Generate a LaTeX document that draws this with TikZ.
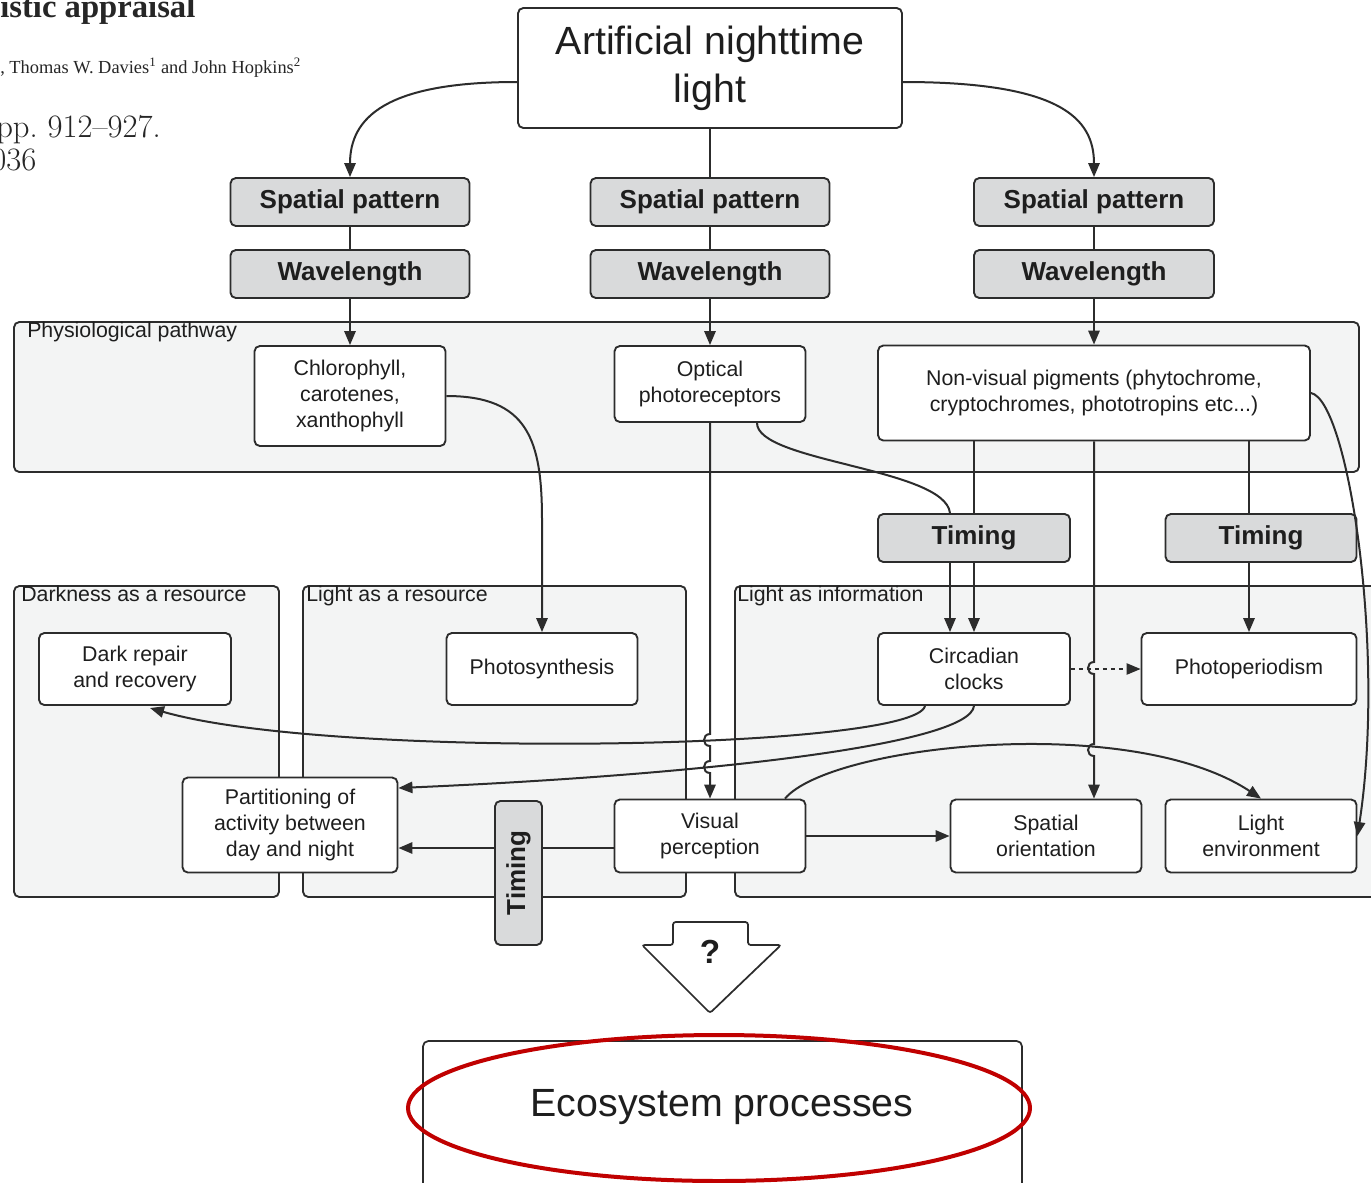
\documentclass[tikz,border=0pt]{standalone}
\usepackage{fontspec}
\newfontfamily\lsans{Liberation Sans}
\newfontfamily\lserif{Liberation Serif}
\usetikzlibrary{arrows.meta,calc}
\definecolor{lc}{HTML}{2C2C2C}
\definecolor{tc}{HTML}{1E1E1E}
\definecolor{gfill}{HTML}{D9DADB}
\definecolor{grpfill}{HTML}{F3F4F4}
\definecolor{ered}{HTML}{C00000}
\begin{document}
\begin{tikzpicture}[x=0.75pt,y=-0.75pt,
  box/.style 2 args={draw=lc, line width=1.4pt, rounded corners=4pt, fill=white, align=center, text=tc, inner sep=0pt,
    minimum width={#1*0.75pt}, minimum height={#2*0.75pt}, font=\lsans\fontsize{16}{19.5}\selectfont},
  gbox/.style 2 args={box={#1}{#2}, fill=gfill, font=\lsans\bfseries\fontsize{19.5}{23}\selectfont},
  grp/.style={draw=lc, line width=1.4pt, rounded corners=4pt, fill=grpfill},
  glabel/.style={anchor=base west, inner sep=0pt, text=tc, font=\lsans\fontsize{16}{19.5}\selectfont},
  conn/.style={draw=lc, line width=1.5pt},
  arr/.style={conn, -{Triangle[length=10.5pt,width=8.5pt]}},
  hdr/.style={anchor=base west, inner sep=0pt, text=black!85},
]
\useasboundingbox (0,0) rectangle (1371,1182);
\clip (0,0) rectangle (1371,1182);
\fill[white] (0,0) rectangle (1371,1182);

% header fragment
\node[hdr, font=\lserif\bfseries\fontsize{24.5}{28}\selectfont] (h1) at (0,17) {istic appraisal};
\node[hdr, font=\lserif\fontsize{13.8}{16}\selectfont] (h2) at (0,73) {, Thomas W. Davies\textsuperscript{1} and John Hopkins\textsuperscript{2}};
\node[hdr, font=\fontsize{24.5}{29}\selectfont] (h3) at (-4,137) {pp.\ 912--927.};
\node[hdr, font=\fontsize{24.5}{29}\selectfont] (h4) at (-9,170) {036};

% groups
\draw[grp] (14,322) rectangle (1359,472);
\draw[grp] (14,586) rectangle (279,897);
\draw[grp] (303,586) rectangle (686,897);
\draw[grp] (735,586) rectangle (1395,897);
\node[glabel] (lphys) at (27,337) {Physiological pathway};
\node[glabel] (ldark) at (21,601) {Darkness as a resource};
\node[glabel] (lres) at (306,601) {Light as a resource};
\node[glabel] (linfo) at (737,601) {Light as information};

% nodes
\node[box={384}{120}, font=\lsans\fontsize{29.5}{36}\selectfont] (top) at (710,68) {Artificial nighttime\\light};
\node[gbox={239}{48}] (sp1) at (350,202) {Spatial pattern};
\node[gbox={239}{48}] (sp2) at (710,202) {Spatial pattern};
\node[gbox={240}{48}] (sp3) at (1094,202) {Spatial pattern};
\node[gbox={239}{48}] (wl1) at (350,274) {Wavelength};
\node[gbox={239}{48}] (wl2) at (710,274) {Wavelength};
\node[gbox={240}{48}] (wl3) at (1094,274) {Wavelength};
\node[box={191}{100}] (chl) at (350,396) {Chlorophyll,\\carotenes,\\xanthophyll};
\node[box={191}{76}] (opt) at (710,384) {Optical\\photoreceptors};
\node[box={432}{95}] (nvp) at (1094,393) {Non-visual pigments (phytochrome,\\cryptochromes, phototropins etc...)};
\node[gbox={192}{48}] (tim1) at (974,538) {Timing};
\node[gbox={191}{48}] (tim2) at (1261,538) {Timing};
\node[box={192}{72}] (dark) at (135,669) {Dark repair\\and recovery};
\node[box={191}{72}] (photo) at (542,669) {Photosynthesis};
\node[box={192}{72}] (circ) at (974,669) {Circadian\\clocks};
\node[box={215}{72}] (pper) at (1249,669) {Photoperiodism};
\node[box={215}{95}] (part) at (290,825) {Partitioning of\\activity between\\day and night};
\node[box={191}{73}] (vis) at (710,836) {Visual\\perception};
\node[box={191}{73}] (spo) at (1046,836) {Spatial\\orientation};
\node[box={191}{73}] (lenv) at (1261,836) {Light\\environment};

% connectors, top part
\draw[conn] (top.south) -- (sp2.north);
\draw[arr] ($(top.west)+(0,14)$) .. controls (385,82) and (350,118) .. (sp1.north);
\draw[arr] ($(top.east)+(0,14)$) .. controls (1060,82) and (1094,118) .. (sp3.north);
\draw[conn] (sp1.south) -- (wl1.north);
\draw[conn] (sp2.south) -- (wl2.north);
\draw[conn] (sp3.south) -- (wl3.north);
\draw[arr] (wl1.south) -- (chl.north);
\draw[arr] (wl2.south) -- (opt.north);
\draw[arr] (wl3.south) -- (nvp.north);

% physiological to outcomes
\draw[arr] (chl.east) .. controls (528,396) and (542,440) .. (542,520) -- (photo.north);
\draw[conn] ($(opt.south)+(47,0)$) .. controls (757,462) and (945,468) .. ($(tim1.north)+(-24,0)$);
\draw[conn] (nvp.south -| tim1.north) -- (tim1.north);
\draw[conn] (nvp.south -| pper.north) -- (tim2.north -| pper.north);
\draw[arr] ($(tim1.south)+(-24,0)$) -- ($(circ.north)+(-24,0)$);
\draw[arr] (tim1.south) -- (circ.north);
\draw[arr] (tim2.south -| pper.north) -- (pper.north);
\draw[arr] (nvp.east) .. controls (1348,400) and (1386,650) .. (lenv.east);

% circadian outputs
\draw[arr] ($(circ.south)+(-49,0)$) .. controls (915,750) and (330,760) .. (150,708);
\draw[arr] (circ.south) .. controls (970,745) and (700,775) .. ($(part.east)+(0,-37)$);
\draw[arr, line width=1.1pt, dash pattern=on 3pt off 3pt] (circ.east) -- (pper.west);

% vertical lines with jumps
\draw[arr] (opt.south) -- (710,734) .. controls (702,734) and (702,746) .. (710,746)
  -- (710,761) .. controls (702,761) and (702,773) .. (710,773) -- (vis.north);
\draw[arr] (nvp.south) -- (1094,662) .. controls (1086,662) and (1086,674) .. (1094,674)
  -- (1094,744) .. controls (1086,744) and (1086,756) .. (1094,756) -- (nvp.south |- spo.north);

% visual perception outputs
\draw[arr] ($(vis.west)+(0,12)$) -- ($(part.east)+(0,23)$);
\draw[arr] (vis.east) -- (spo.west);
\draw[arr] ($(vis.north)+(75,0)$) .. controls (830,745) and (1130,712) .. (lenv.north);

% vertical timing box (over the connector)
\node[gbox={144}{47}, rotate=90] (timv) at (518.5,873) {Timing};

% question arrow
\draw[lc, line width=1.3pt, fill=white, rounded corners=2pt] (673,945) -- (673,922) -- (748,922) -- (748,945) -- (781,945) -- (710,1013) -- (642,945) -- cycle;
\node[text=tc, font=\lsans\bfseries\fontsize{25}{30}\selectfont, inner sep=0pt] (q) at (710,952) {?};

% ecosystem box
\draw[lc, line width=1.3pt, fill=white, rounded corners=4pt] (423,1041) rectangle (1022,1205);
\node[text=tc, font=\lsans\fontsize{29.5}{36}\selectfont, inner sep=0pt] (eco) at (722,1107) {Ecosystem processes};
\draw[ered, line width=3pt] (719,1108) ellipse [x radius=233.25pt, y radius=54.75pt];
\end{tikzpicture}
\end{document}
